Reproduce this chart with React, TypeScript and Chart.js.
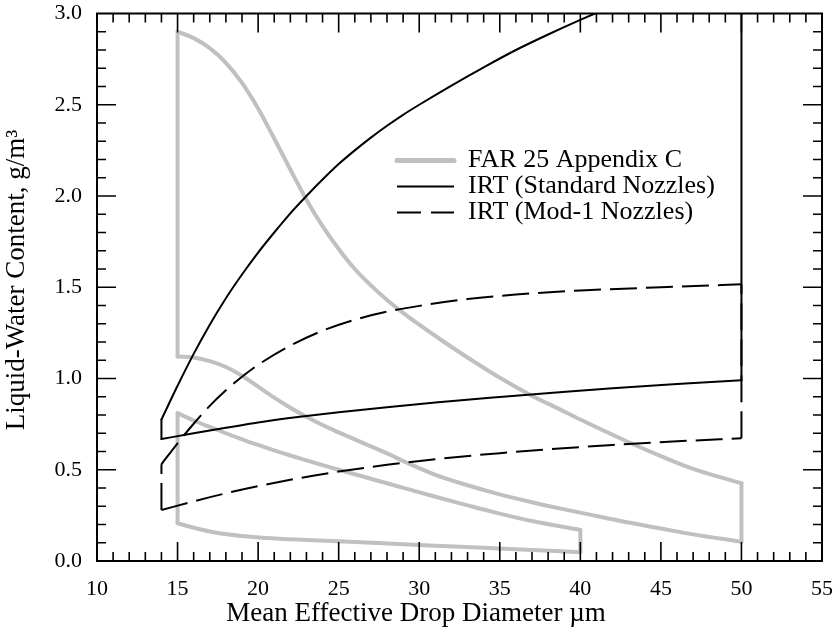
import React, { useEffect, useRef } from "react";
import { Chart, registerables } from "chart.js";

Chart.register(...registerables);

const FONT = "'Liberation Serif', 'Times New Roman', Times, serif";

// Axis ranges and tick labels
const X_MIN = 10;
const X_MAX = 55;
const X_STEP = 5;
const Y_MIN = 0;
const Y_MAX = 3;
const Y_STEP = 0.5;

const X_TITLE = "Mean Effective Drop Diameter \u00B5m";
const Y_TITLE = "Liquid-Water Content, g/m\u00B3";

const LEGEND_LABELS = ["FAR 25 Appendix C", "IRT (Standard Nozzles)", "IRT (Mod-1 Nozzles)"];

// FAR 25 Appendix C - intermittent maximum envelope
const farIntermittentUpper: [number, number][] = [
  [15, 2.9], [16, 2.865], [17, 2.81], [18, 2.73], [19, 2.62], [20, 2.48], [21, 2.315],
  [22, 2.145], [23, 1.98], [24, 1.835], [25, 1.71], [26, 1.6], [27, 1.51], [28, 1.43],
  [29, 1.36], [30, 1.295], [31.3, 1.215], [33, 1.115], [34.8, 1.015], [36.9, 0.91], [38.7, 0.832],
  [40, 0.775], [42.9, 0.655], [45, 0.575], [47, 0.505], [50, 0.426],
];
const farIntermittentLower: [number, number][] = [
  [15, 1.12], [16, 1.115], [17, 1.095], [18, 1.063], [19, 1.015], [20, 0.955], [21, 0.895],
  [22, 0.84], [23, 0.79], [24, 0.745], [25, 0.705], [26.5, 0.647], [28, 0.59], [29.2, 0.54],
  [31, 0.472], [33, 0.415], [35, 0.365], [37, 0.322], [39, 0.283], [40, 0.265], [42.9, 0.212],
  [45, 0.178], [47, 0.146], [50, 0.106],
];

// FAR 25 Appendix C - continuous maximum envelope
const farContinuousUpper: [number, number][] = [
  [15, 0.81], [16, 0.77], [17, 0.735], [18, 0.7], [19, 0.667], [20, 0.636], [21, 0.606],
  [22, 0.578], [23, 0.551], [24, 0.525], [25, 0.5], [26.5, 0.463], [28.6, 0.411], [31, 0.352],
  [33, 0.305], [34.8, 0.264], [37, 0.219], [40, 0.17],
];
const farContinuousLower: [number, number][] = [
  [15, 0.207], [16, 0.182], [17.4, 0.155], [19, 0.137], [20.5, 0.126], [23, 0.115],
  [25.7, 0.105], [28, 0.096], [31, 0.084], [34, 0.072], [37, 0.06], [40, 0.048],
];

// IRT standard nozzles envelope
const irtStandardUpper: [number, number][] = [
  [14, 0.775], [15, 0.96], [16, 1.135], [17, 1.295], [18, 1.44], [19, 1.57], [20, 1.69],
  [21, 1.8], [22, 1.905], [23, 2.0], [24, 2.09], [25, 2.175], [26, 2.25], [27, 2.32],
  [28, 2.385], [29, 2.445], [30, 2.5], [32, 2.605], [34, 2.705], [36, 2.8], [38, 2.885],
  [40, 2.965], [42, 3.04], [45, 3.145], [50, 3.31],
];
const irtStandardLower: [number, number][] = [
  [14, 0.668], [16, 0.7], [18, 0.73], [20, 0.759], [22.6, 0.79], [25, 0.815], [28, 0.843],
  [31, 0.869], [35, 0.899], [38.7, 0.925], [42, 0.947], [46, 0.97], [50, 0.99],
];

// IRT Mod-1 nozzles envelope
const irtModUpper: [number, number][] = [
  [14, 0.53], [15, 0.645], [16, 0.752], [17, 0.85], [18, 0.935], [19, 1.01], [20, 1.075],
  [22, 1.18], [24, 1.262], [26, 1.322], [28, 1.366], [30, 1.398], [33, 1.435], [36, 1.46],
  [40, 1.482], [45, 1.5], [50, 1.516],
];
const irtModLower: [number, number][] = [
  [14, 0.279], [16, 0.327], [18, 0.371], [20, 0.41], [22.6, 0.455], [25, 0.49], [28, 0.527],
  [31, 0.558], [35, 0.591], [38.7, 0.616], [42, 0.636], [46, 0.656], [50, 0.672],
];

const GRAY = "rgb(192,192,192)";
const BLACK = "#000000";
const DASH = [27, 9];

type Pair = [number, number];
const pts = (list: Pair[]) => list.map(([x, y]) => ({ x, y }));

// An envelope: two curves plus the two vertical edges joining their ends
function envelope(upper: Pair[], lower: Pair[], style: any, order: number) {
  const base = {
    pointRadius: 0,
    pointHoverRadius: 0,
    fill: false,
    borderCapStyle: "round",
    borderJoinStyle: "round",
    order,
    ...style,
  };
  const first = (l: Pair[]) => l[0];
  const last = (l: Pair[]) => l[l.length - 1];
  return [
    { ...base, data: pts(upper), cubicInterpolationMode: "monotone" },
    { ...base, data: pts(lower), cubicInterpolationMode: "monotone" },
    { ...base, data: pts([first(lower), first(upper)]), tension: 0 },
    { ...base, data: pts([last(lower), last(upper)]), tension: 0 },
  ];
}

const MAJOR_TICK = 19;
const MINOR_TICK = 9;

const framePlugin = {
  id: "frameTicks",
  afterDatasetsDraw(chart: any) {
    const { ctx, chartArea, scales } = chart;
    const { left, right, top, bottom } = chartArea;
    const xs = scales.x;
    const ys = scales.y;
    ctx.save();
    ctx.strokeStyle = BLACK;
    ctx.lineWidth = 1.6;
    ctx.beginPath();
    for (let v = X_MIN + 1; v < X_MAX; v++) {
      const px = xs.getPixelForValue(v);
      const len = v % 5 === 0 ? MAJOR_TICK : MINOR_TICK;
      ctx.moveTo(px, bottom);
      ctx.lineTo(px, bottom - len);
      ctx.moveTo(px, top);
      ctx.lineTo(px, top + len);
    }
    for (let k = 1; k < 30; k++) {
      const py = ys.getPixelForValue(k / 10);
      const len = k % 5 === 0 ? MAJOR_TICK : MINOR_TICK;
      ctx.moveTo(left, py);
      ctx.lineTo(left + len, py);
      ctx.moveTo(right, py);
      ctx.lineTo(right - len, py);
    }
    ctx.stroke();
    ctx.lineWidth = 2;
    ctx.strokeRect(left, top, right - left, bottom - top);
    ctx.restore();
  },
};

const textPlugin = {
  id: "titlesLegend",
  afterDraw(chart: any) {
    const { ctx, chartArea } = chart;
    const { left, top } = chartArea;
    ctx.save();
    ctx.fillStyle = BLACK;
    // axis titles
    ctx.font = `27px ${FONT}`;
    ctx.textAlign = "center";
    ctx.textBaseline = "middle";
    ctx.fillText(X_TITLE, 416, 614);
    ctx.save();
    ctx.translate(16.5, 280);
    ctx.rotate(-Math.PI / 2);
    ctx.fillText(Y_TITLE, 0, 0);
    ctx.restore();

    // legend
    const styles = [
      { color: GRAY, width: 5, dash: [] as number[] },
      { color: BLACK, width: 2, dash: [] as number[] },
      { color: BLACK, width: 2, dash: [24, 10] },
    ];
    const lx0 = left + 300;
    const lx1 = left + 357;
    const tx = left + 371;
    ctx.font = `26px ${FONT}`;
    ctx.textAlign = "left";
    LEGEND_LABELS.forEach((label, i) => {
      const cy = top + 147 + i * 26;
      const s = styles[i];
      ctx.beginPath();
      ctx.strokeStyle = s.color;
      ctx.lineWidth = s.width;
      ctx.setLineDash(s.dash);
      ctx.lineCap = i === 0 ? "round" : "butt";
      ctx.moveTo(lx0, cy);
      ctx.lineTo(lx1, cy);
      ctx.stroke();
      ctx.setLineDash([]);
      ctx.fillText(label, tx, cy);
    });
    ctx.restore();
  },
};

const zeroPad = (s: any) => {
  s.paddingTop = 0;
  s.paddingBottom = 0;
  s.paddingLeft = 0;
  s.paddingRight = 0;
};

export default function App() {
  const ref = useRef<HTMLCanvasElement>(null);

  useEffect(() => {
    if (!ref.current) return;
    const datasets = [
      ...envelope(irtStandardUpper, irtStandardLower, { borderColor: BLACK, borderWidth: 2, label: LEGEND_LABELS[1] }, 1),
      ...envelope(irtModUpper, irtModLower, { borderColor: BLACK, borderWidth: 2, borderDash: DASH, borderCapStyle: "butt", label: LEGEND_LABELS[2] }, 2),
      ...envelope(farIntermittentUpper, farIntermittentLower, { borderColor: GRAY, borderWidth: 4, label: LEGEND_LABELS[0] }, 3),
      ...envelope(farContinuousUpper, farContinuousLower, { borderColor: GRAY, borderWidth: 4, label: LEGEND_LABELS[0] }, 4),
    ];
    const chart = new Chart(ref.current, {
      type: "line",
      data: { datasets } as any,
      options: {
        animation: false,
        responsive: false,
        events: [],
        layout: { padding: { left: 0, right: 12, top: 13.5, bottom: 0 } },
        plugins: { legend: { display: false }, tooltip: { enabled: false }, title: { display: false } },
        scales: {
          x: {
            type: "linear",
            min: X_MIN,
            max: X_MAX,
            afterFit: (s: any) => { s.height = 69; zeroPad(s); },
            grid: { display: false, drawTicks: false },
            border: { display: false },
            ticks: {
              stepSize: X_STEP,
              padding: 15,
              color: BLACK,
              font: { family: FONT, size: 22 },
              maxRotation: 0,
              autoSkip: false,
            },
          },
          y: {
            type: "linear",
            min: Y_MIN,
            max: Y_MAX,
            afterFit: (s: any) => { s.width = 97; zeroPad(s); },
            grid: { display: false, drawTicks: false },
            border: { display: false },
            ticks: {
              stepSize: Y_STEP,
              padding: 15,
              color: BLACK,
              font: { family: FONT, size: 22 },
              callback: (v: any) => Number(v).toFixed(1),
            },
          },
        },
      } as any,
      plugins: [framePlugin, textPlugin],
    });
    return () => chart.destroy();
  }, []);

  return (
    <div style={{ position: "absolute", left: 0, top: 0, width: 834, height: 630, background: "#fff" }}>
      <canvas ref={ref} width={834} height={630} style={{ display: "block" }} />
    </div>
  );
}
